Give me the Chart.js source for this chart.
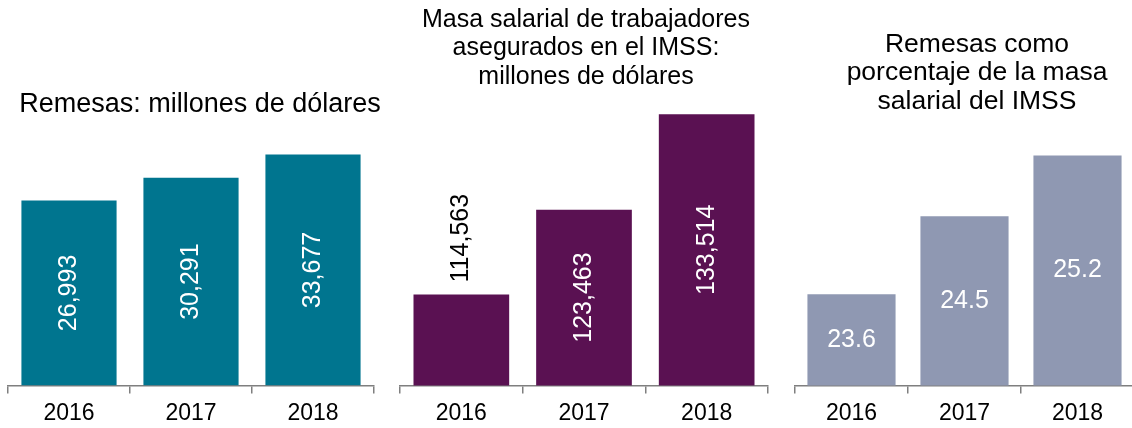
<!DOCTYPE html>
<html>
<head>
<meta charset="utf-8">
<script src="https://cdn.jsdelivr.net/npm/chart.js@4"></script>
<style>
html, body { margin: 0; padding: 0; background: #fff; overflow: hidden; width: 1132px; height: 428px; }
canvas { position: absolute; top: 0; }
</style>
</head>
<body>
<canvas id="remesas" width="392" height="433" style="left:4px"></canvas>
<canvas id="masa" width="380" height="433" style="left:396px"></canvas>
<canvas id="porcentaje" width="372" height="433" style="left:791px"></canvas>
<script>
const years = ['2016', '2017', '2018'];
const remesas = [26993, 30291, 33677];
const masaSalarial = [114563, 123463, 133514];
const porcentaje = [23.6, 24.5, 25.2];

const titleRemesas = ['Remesas: millones de dólares'];
const titleMasa = ['Masa salarial de trabajadores', 'asegurados en el IMSS:', 'millones de dólares'];
const titlePorcentaje = ['Remesas como', 'porcentaje de la masa', 'salarial del IMSS'];

const FONT = '"Liberation Sans", Arial, sans-serif';
const TITLE_LINE = 28.6;

// value labels on the bars, one plugin per chart
function barLabels(modes, format) {
    return {
        id: 'barLabels',
        afterDatasetsDraw(chart) {
            const ctx = chart.ctx;
            const meta = chart.getDatasetMeta(0);
            const values = chart.data.datasets[0].data;
            const bottom = chart.chartArea.bottom;
            ctx.save();
            ctx.font = '25px ' + FONT;
            ctx.textBaseline = 'middle';
            meta.data.forEach((bar, i) => {
                const text = format(values[i]);
                const mode = modes[i];
                const mid = (bar.y + Math.min(bar.base, bottom)) / 2;
                ctx.save();
                if (mode === 'horiz') {
                    ctx.fillStyle = '#fff';
                    ctx.textAlign = 'center';
                    ctx.fillText(text, bar.x, mid);
                } else if (mode === 'out') {
                    ctx.fillStyle = '#000';
                    ctx.textAlign = 'left';
                    ctx.translate(bar.x, bar.y - 12);
                    ctx.rotate(-Math.PI / 2);
                    ctx.fillText(text, 0, 0);
                } else {
                    ctx.fillStyle = '#fff';
                    ctx.textAlign = 'center';
                    ctx.translate(bar.x, mid);
                    ctx.rotate(-Math.PI / 2);
                    ctx.fillText(text, 0, 0);
                }
                ctx.restore();
            });
            ctx.restore();
        }
    };
}

function padScale(position, width) {
    return {
        type: 'linear',
        position: position,
        display: true,
        ticks: { display: false },
        grid: { display: false },
        border: { display: false },
        afterFit: (s) => { s.width = width; }
    };
}

window.CreatePanel = (chartId, title, titleSize, titleTop, areaTop, data, color, yMin, yMax, rightPad, modes, format) => {
    const ctx = document.getElementById(chartId);
    new Chart(ctx, {
        type: 'bar',
        data: {
            labels: years,
            datasets: [{
                label: 'Dataset',
                data: data,
                backgroundColor: color,
                borderWidth: 0,
                barPercentage: 0.78,
                categoryPercentage: 1
            }]
        },
        options: {
            responsive: false,
            animation: false,
            layout: { padding: 0 },
            plugins: {
                legend: { display: false },
                tooltip: { enabled: false },
                title: {
                    display: true,
                    text: title,
                    color: '#000',
                    font: { family: FONT, size: titleSize, weight: 'normal', lineHeight: TITLE_LINE / titleSize },
                    padding: { top: titleTop, bottom: areaTop - titleTop - TITLE_LINE * title.length }
                }
            },
            scales: {
                x: {
                    grid: { offset: true, drawOnChartArea: false, drawTicks: true, tickLength: 8, color: '#7f7f7f', lineWidth: 1.5 },
                    border: { color: '#7f7f7f', width: 1.5 },
                    ticks: { color: '#000', padding: 6, font: { family: FONT, size: 23, lineHeight: 1.2 } }
                },
                y: { display: false, min: yMin, max: yMax },
                padL: padScale('left', 4),
                padR: padScale('right', rightPad)
            }
        },
        plugins: [barLabels(modes, format)]
    });
};

const fmtInt = (v) => v.toLocaleString('en-US');
const fmtDec = (v) => v.toFixed(1);

CreatePanel('remesas', titleRemesas, 27, 90, 125, remesas, '#00758f', 0, 38000, 22,
    ['in', 'in', 'in'], fmtInt);
CreatePanel('masa', titleMasa, 25, 5.7, 100, masaSalarial, '#5a1152', 105000, 135000, 8,
    ['out', 'in', 'in'], fmtInt);
CreatePanel('porcentaje', titlePorcentaje, 26.5, 30, 125, porcentaje, '#8f98b2', 22.55, 25.55, 29,
    ['horiz', 'horiz', 'horiz'], fmtDec);
</script>
</body>
</html>
